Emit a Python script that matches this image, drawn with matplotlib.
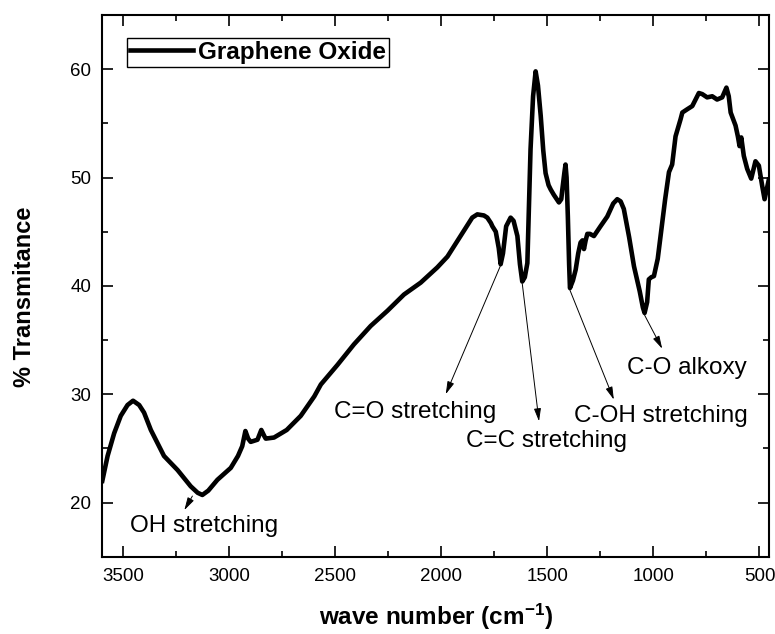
import matplotlib
matplotlib.use("Agg")
import matplotlib.pyplot as plt
from matplotlib.ticker import MultipleLocator

plt.rcParams['font.family'] = ['Liberation Sans', 'DejaVu Sans']
plt.rcParams['mathtext.fontset'] = 'custom'
plt.rcParams['mathtext.rm'] = 'Liberation Sans'
plt.rcParams['mathtext.bf'] = 'Liberation Sans:bold'
plt.rcParams['mathtext.default'] = 'bf'

# FTIR spectrum of graphene oxide
wavenumber = [3600, 3575, 3544, 3513, 3481, 3455, 3426, 3403, 3371, 3309,
              3245, 3183, 3150, 3128, 3100, 3057, 2994, 2960, 2940, 2925,
              2912, 2900, 2868, 2850, 2835, 2829, 2790, 2730, 2664, 2600,
              2569, 2491, 2413, 2334, 2255, 2177, 2098, 2020, 1972, 1910,
              1855, 1831, 1800, 1784, 1767, 1760, 1744, 1730, 1721, 1710,
              1695, 1674, 1660, 1642, 1630, 1619, 1607, 1595, 1580, 1568,
              1556, 1545, 1532, 1520, 1509, 1495, 1485, 1470, 1446, 1435,
              1430, 1420, 1415, 1410, 1404, 1398, 1394, 1380, 1367, 1355,
              1344, 1335, 1328, 1320, 1312, 1300, 1281, 1250, 1218, 1190,
              1171, 1155, 1140, 1115, 1092, 1065, 1050, 1042, 1030, 1022,
              1010, 998, 980, 963, 945, 927, 912, 896, 872, 864,
              841, 817, 786, 770, 747, 723, 700, 676, 656, 645,
              636, 613, 602, 594, 586, 574, 558, 539, 519, 503,
              487, 476, 464, 456]
transmittance = [22.0, 24.3, 26.4, 28.0, 29.0, 29.4, 29.0, 28.3, 26.7, 24.3,
                 23.0, 21.5, 20.9, 20.7, 21.1, 22.1, 23.2, 24.3, 25.2, 26.6,
                 25.9, 25.6, 25.8, 26.7, 26.1, 25.9, 26.0, 26.7, 28.0, 29.8,
                 30.9, 32.7, 34.6, 36.3, 37.7, 39.2, 40.3, 41.7, 42.7, 44.6,
                 46.3, 46.6, 46.5, 46.3, 45.8, 45.5, 45.0, 43.5, 42.0, 43.0,
                 45.5, 46.3, 46.0, 44.6, 42.0, 40.4, 40.8, 42.1, 52.6, 57.5,
                 59.8, 58.5, 55.7, 52.5, 50.4, 49.3, 48.9, 48.4, 47.7, 48.0,
                 48.9, 50.5, 51.2, 50.0, 46.4, 42.0, 39.8, 40.5, 41.5, 43.0,
                 44.0, 44.2, 43.4, 44.2, 44.8, 44.8, 44.6, 45.5, 46.4, 47.6,
                 48.0, 47.8, 47.1, 44.5, 41.8, 39.5, 38.0, 37.5, 38.5, 40.6,
                 40.8, 40.9, 42.5, 45.2, 48.0, 50.5, 51.2, 53.8, 55.4, 56.0,
                 56.3, 56.6, 57.8, 57.7, 57.4, 57.5, 57.2, 57.4, 58.3, 57.5,
                 56.0, 54.8, 53.8, 52.9, 53.7, 52.0, 50.8, 49.9, 51.5, 51.1,
                 49.2, 48.0, 49.1, 49.8]

# band labels: text, label centre, arrow start (on the curve), arrow tip
band_labels = ['OH stretching', 'C=O stretching', 'C=C stretching',
               'C-OH stretching', 'C-O alkoxy']
label_pos = [(3121, 17.8), (2126, 28.4), (1505, 25.65), (963, 27.96), (841, 32.4)]
arrow_from = [(3175, 20.6), (1721, 41.9), (1619, 40.2), (1394, 39.6), (1042, 37.3)]
arrow_to = [(3213, 19.3), (1980, 30.0), (1540, 27.5), (1187, 29.5), (959, 34.2)]

fig = plt.figure(figsize=(7.75, 6.34), dpi=100)
ax = fig.add_axes([0.132, 0.1219, 0.8603, 0.8544])

ax.plot(wavenumber, transmittance, color='black', lw=3.3,
        solid_joinstyle='round', label='Graphene Oxide')

ax.set_xlim(3600, 455)
ax.set_ylim(15, 65)
ax.xaxis.set_major_locator(MultipleLocator(500))
ax.xaxis.set_minor_locator(MultipleLocator(250))
ax.yaxis.set_major_locator(MultipleLocator(10))
ax.yaxis.set_minor_locator(MultipleLocator(5))
ax.tick_params(which='both', direction='in', top=True, right=True,
               labelsize=13.5, width=1.2)
ax.tick_params(axis='x', pad=8)
ax.tick_params(axis='y', pad=8)
ax.tick_params(which='major', length=8)
ax.tick_params(which='minor', length=4.5)
for s in ax.spines.values():
    s.set_linewidth(1.5)

for txt, pos, a0, a1 in zip(band_labels, label_pos, arrow_from, arrow_to):
    ax.annotate('', xy=a1, xytext=a0,
                arrowprops=dict(arrowstyle='-|>,head_length=0.55,head_width=0.15',
                                color='black', lw=0.7, shrinkA=0, shrinkB=0,
                                mutation_scale=14))
    ax.text(pos[0], pos[1], txt, ha='center', va='center', fontsize=17.5)

leg = ax.legend(loc='upper left', bbox_to_anchor=(0.0366, 0.9576),
                borderaxespad=0, borderpad=0.12, handlelength=2.6,
                handletextpad=0.2, fancybox=False, framealpha=1,
                edgecolor='black', prop={'weight': 'bold', 'size': 17.5})
leg.get_frame().set_linewidth(1.0)

fig.text(436 / 775, 1 - 625 / 634, r'wave number (cm$^{-1}$)',
         ha='center', va='baseline', fontsize=17.5, fontweight='bold')
fig.text(25 / 775, 1 - 297 / 634, '% Transmitance', rotation=90,
         ha='center', va='center', fontsize=17, fontweight='bold')

fig.savefig('out.png', dpi=100)
